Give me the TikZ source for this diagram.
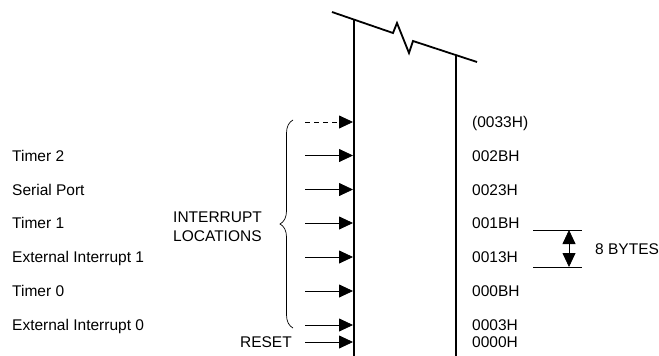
\documentclass[tikz,border=0pt]{standalone}
\usepackage{fontspec}
\setmainfont{Liberation Sans}
\usetikzlibrary{arrows.meta,decorations.pathreplacing,positioning}

\begin{document}
\begin{tikzpicture}
[
    x=1pt, y=-1pt,
    every node/.style={font=\fontsize{15.5}{19}\selectfont, inner sep=0pt},
    lbl/.style={anchor=west, text height=11pt, text depth=0pt},
    wall/.style={line width=1.8pt},
    vecarrow/.style={-{Triangle[length=14pt,width=13pt]}, line width=0.8pt},
    gap/.style={{Triangle[length=14pt,width=13pt]}-{Triangle[length=14pt,width=13pt]}, line width=0.8pt},
]
\useasboundingbox (0,0) rectangle (659,356);

% memory column
\coordinate (lefttop) at (354,19.6);
\coordinate (leftbot) at (354,356);
\coordinate (righttop) at (456,55);
\coordinate (rightbot) at (456,356);
\draw[wall] (lefttop) -- (leftbot);
\draw[wall] (righttop) -- (rightbot);
\draw[wall, line join=miter] (332,12) -- (393,33) -- (397,23) -- (409,53) -- (413,41) -- (477,62);

% vector rows
\node[lbl] (addr0) at (472,122) {(0033H)};
\coordinate (from0) at (305,122);
\coordinate (to0) at (353,122);
\draw[vecarrow, dash pattern=on 5pt off 4pt] (from0) -- (to0);
\foreach \y/\name/\addr [count=\i] in {155.5/Timer 2/002BH, 189.5/Serial Port/0023H, 223/Timer 1/001BH,
    257/External Interrupt 1/0013H, 291/Timer 0/000BH, 325/External Interrupt 0/0003H}
{
    \node[lbl] (src\i) at (12,\y) {\name};
    \node[lbl] (addr\i) at (472,\y) {\addr};
    \coordinate (from\i) at (305,\y);
    \coordinate (to\i) at (353,\y);
    \draw[vecarrow] (from\i) -- (to\i);
}

% reset
\node[anchor=east, text height=11pt, text depth=0pt] (reset) at (292,342) {RESET};
\node[lbl] (addr7) at (472,342) {0000H};
\coordinate (from7) at (305,342);
\coordinate (to7) at (353,342);
\draw[vecarrow] (from7) -- (to7);

% interrupt brace
\coordinate (bracebot) at (293,328);
\coordinate (bracetop) at (293,120);
\draw[line width=0.7pt, decorate, decoration={brace, amplitude=13pt}] (bracebot) -- (bracetop);
\node[anchor=west, align=left] (intloc) at (173,226.5) {INTERRUPT\\LOCATIONS};

% spacing mark
\coordinate (markA) at (533,230);
\coordinate (markAend) at (582,230);
\coordinate (markB) at (533,267);
\coordinate (markBend) at (582,267);
\draw[line width=0.8pt] (markA) -- (markAend);
\draw[line width=0.8pt] (markB) -- (markBend);
\coordinate (gaptop) at (569,230);
\coordinate (gapbot) at (569,267);
\draw[gap] (gaptop) -- (gapbot);
\node[lbl] (bytes) at (595,249) {8 BYTES};
\end{tikzpicture}
\end{document}
